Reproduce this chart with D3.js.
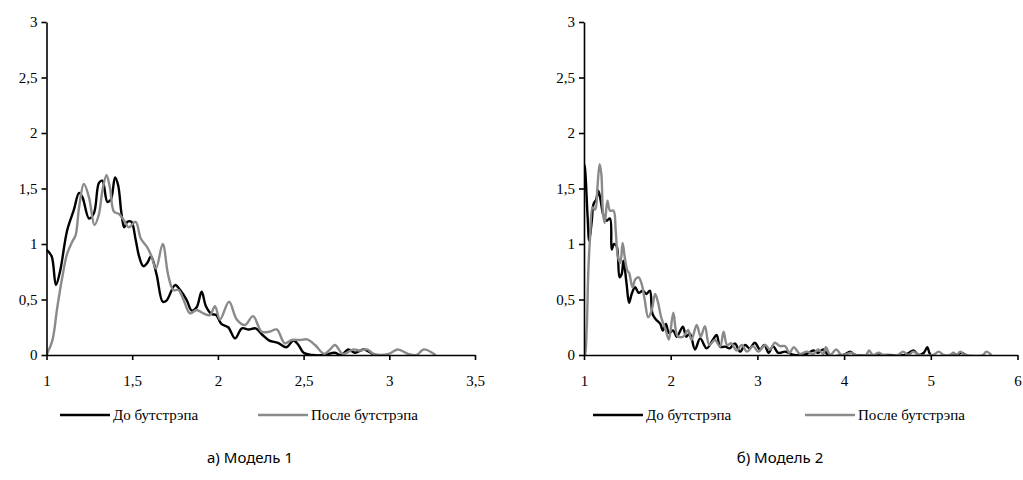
<!DOCTYPE html>
<html>
<head>
<meta charset="utf-8">
<script src="https://cdn.jsdelivr.net/npm/d3@7"></script>
<style>
  body { margin: 0; background: #fff; }
</style>
</head>
<body>
<div id="chart"></div>
<script>
// Series names
const seriesNames = ["До бутстрэпа", "После бутстрэпа"];
const captions = ["а) Модель 1", "б) Модель 2"];

// Model 1, density before / after bootstrap: [x, y]
const m1Before = [
  [1.00,0.95],[1.03,0.89],[1.055,0.63],[1.08,0.76],[1.12,1.12],[1.16,1.31],[1.19,1.46],[1.21,1.42],
  [1.248,1.23],[1.277,1.28],[1.306,1.55],[1.326,1.57],[1.355,1.38],[1.375,1.40],[1.40,1.60],[1.418,1.53],
  [1.437,1.28],[1.453,1.15],[1.472,1.20],[1.495,1.20],[1.52,1.04],[1.54,0.89],[1.565,0.80],[1.588,0.83],
  [1.61,0.89],[1.643,0.72],[1.678,0.48],[1.70,0.49],[1.75,0.63],[1.78,0.585],[1.818,0.495],[1.847,0.40],
  [1.876,0.43],[1.905,0.57],[1.93,0.44],[1.963,0.37],[1.99,0.36],[2.02,0.28],[2.06,0.25],[2.10,0.15],
  [2.14,0.24],[2.18,0.23],[2.22,0.24],[2.26,0.18],[2.30,0.13],[2.35,0.11],[2.40,0.07],[2.44,0.13],
  [2.47,0.09],[2.50,0.02],[2.55,0.0],[2.62,0.0],[2.68,0.02],[2.72,0.0],[2.76,0.05],[2.80,0.02],
  [2.85,0.05],[2.91,0.0]
];
const m1After = [
  [1.00,0.0],[1.034,0.13],[1.063,0.43],[1.092,0.70],[1.12,0.91],[1.15,1.02],[1.17,1.08],[1.19,1.33],
  [1.218,1.54],[1.248,1.42],[1.28,1.17],[1.306,1.27],[1.326,1.48],[1.35,1.62],[1.37,1.51],[1.394,1.29],
  [1.423,1.27],[1.453,1.21],[1.48,1.15],[1.52,1.20],[1.55,1.05],[1.588,0.97],[1.61,0.90],[1.639,0.78],
  [1.678,1.00],[1.71,0.72],[1.74,0.585],[1.77,0.585],[1.80,0.495],[1.837,0.375],[1.876,0.405],[1.915,0.375],
  [1.954,0.36],[1.983,0.44],[2.012,0.32],[2.065,0.48],[2.11,0.32],[2.158,0.27],[2.205,0.35],[2.255,0.21],
  [2.30,0.21],[2.343,0.23],[2.39,0.105],[2.43,0.135],[2.48,0.135],[2.52,0.14],[2.567,0.09],[2.62,0.01],
  [2.654,0.05],[2.683,0.09],[2.73,0.01],[2.79,0.05],[2.83,0.04],[2.87,0.05],[2.91,0.01],[2.997,0.01],
  [3.05,0.05],[3.11,0.01],[3.16,0.0],[3.20,0.05],[3.27,0.0]
];

// Model 2, density before / after bootstrap: [x, y]
const m2Before = [
  [1.0,1.72],[1.01,1.69],[1.04,1.27],[1.06,1.03],[1.09,1.21],[1.11,1.36],[1.14,1.40],[1.165,1.48],
  [1.19,1.40],[1.22,1.27],[1.26,1.21],[1.30,1.23],[1.32,0.95],[1.346,1.0],[1.377,0.98],[1.41,0.70],
  [1.435,0.73],[1.455,0.85],[1.49,0.65],[1.52,0.47],[1.55,0.55],[1.59,0.61],[1.63,0.56],[1.68,0.58],
  [1.72,0.55],[1.76,0.58],[1.79,0.37],[1.83,0.32],[1.88,0.28],[1.91,0.22],[1.945,0.28],[1.98,0.20],
  [2.03,0.22],[2.07,0.165],[2.14,0.255],[2.18,0.165],[2.22,0.195],[2.28,0.05],[2.34,0.15],[2.415,0.06],
  [2.485,0.135],[2.53,0.18],[2.57,0.075],[2.63,0.075],[2.68,0.06],[2.74,0.105],[2.80,0.03],[2.86,0.09],
  [2.91,0.06],[2.97,0.11],[3.03,0.05],[3.08,0.09],[3.13,0.02],[3.18,0.08],[3.24,0.02],[3.32,0.03],
  [3.43,0.0],[3.57,0.01],[3.645,0.04],[3.70,0.02],[3.76,0.05],[3.82,0.0],[3.99,0.0],[4.07,0.03],
  [4.13,0.0],[4.50,0.0],[4.70,0.0],[4.75,0.02],[4.80,0.04],[4.86,0.0],[4.92,0.02],[4.96,0.07],
  [5.00,0.0],[5.30,0.0],[5.35,0.02],[5.40,0.0]
];
const m2After = [
  [1.0,0.0],[1.01,0.0],[1.03,0.21],[1.05,0.76],[1.07,1.06],[1.10,1.33],[1.13,1.31],[1.155,1.51],
  [1.18,1.72],[1.20,1.63],[1.22,1.27],[1.24,1.19],[1.27,1.39],[1.30,1.30],[1.34,1.30],[1.366,1.12],
  [1.39,0.89],[1.42,0.83],[1.445,1.01],[1.47,0.88],[1.50,0.76],[1.52,0.74],[1.56,0.61],[1.59,0.68],
  [1.63,0.70],[1.665,0.64],[1.70,0.50],[1.74,0.34],[1.78,0.40],[1.82,0.55],[1.855,0.47],[1.89,0.34],
  [1.945,0.22],[1.98,0.14],[2.03,0.38],[2.08,0.17],[2.145,0.165],[2.20,0.225],[2.24,0.135],[2.30,0.27],
  [2.345,0.165],[2.395,0.26],[2.445,0.09],[2.51,0.135],[2.57,0.075],[2.61,0.21],[2.65,0.09],[2.70,0.105],
  [2.76,0.04],[2.82,0.09],[2.88,0.03],[2.95,0.08],[3.01,0.03],[3.09,0.09],[3.145,0.05],[3.20,0.11],
  [3.26,0.08],[3.32,0.08],[3.37,0.02],[3.42,0.07],[3.49,0.01],[3.57,0.03],[3.645,0.01],[3.70,0.05],
  [3.76,0.01],[3.79,0.07],[3.84,0.0],[3.91,0.05],[3.97,0.0],[4.09,0.02],[4.13,0.0],[4.25,0.0],
  [4.29,0.04],[4.33,0.0],[4.40,0.02],[4.45,0.0],[4.62,0.0],[4.68,0.03],[4.74,0.0],[4.80,0.03],
  [4.86,0.0],[5.03,0.0],[5.09,0.03],[5.15,0.0],[5.22,0.0],[5.26,0.02],[5.30,0.0],[5.34,0.03],
  [5.40,0.0],[5.60,0.0],[5.64,0.03],[5.70,0.0]
];

// Axis ticks
const m1XTicks = [1, 1.5, 2, 2.5, 3, 3.5];
const m2XTicks = [1, 2, 3, 4, 5, 6];
const yTicks = [0, 0.5, 1, 1.5, 2, 2.5, 3];

const colors = ["#000000", "#8a8a8a"];
const serifFont = "'Liberation Serif', 'Times New Roman', serif";
const W = 1023, H = 480;

const svg = d3.select("#chart").append("svg")
  .attr("width", W)
  .attr("height", H);

const panels = [
  { left: 46.5, right: 475, xDomain: [1, 3.5], xTicks: m1XTicks, series: [m1Before, m1After],
    legend: [60, 258], caption: captions[0], capX: 250 },
  { left: 584, right: 1017.5, xDomain: [1, 6], xTicks: m2XTicks, series: [m2Before, m2After],
    legend: [593, 805], caption: captions[1], capX: 780 }
];

const fmt = d => String(d).replace(".", ",");

panels.forEach((p, i) => {
  const x = d3.scaleLinear().domain(p.xDomain).range([p.left, p.right]);
  const y = d3.scaleLinear().domain([0, 3]).range([355, 22]);

  // clip so smoothing never dips below the axis
  svg.append("clipPath").attr("id", "clip" + i)
    .append("rect")
    .attr("x", p.left).attr("y", 0)
    .attr("width", p.right - p.left).attr("height", 355);

  const line = d3.line()
    .x(d => x(d[0]))
    .y(d => y(d[1]))
    .curve(d3.curveCatmullRom.alpha(0.5));

  const g = svg.append("g").attr("clip-path", `url(#clip${i})`);
  p.series.forEach((s, k) => {
    g.append("path")
      .datum(s)
      .attr("d", line)
      .attr("fill", "none")
      .attr("stroke", colors[k])
      .attr("stroke-width", 2.4)
      .attr("stroke-linejoin", "round");
  });

  // Axes
  const xAxis = svg.append("g")
    .attr("transform", "translate(0,355)")
    .call(d3.axisBottom(x).tickValues(p.xTicks).tickFormat(fmt).tickSize(5).tickSizeOuter(0).tickPadding(15));
  const yAxis = svg.append("g")
    .attr("transform", `translate(${p.left},0)`)
    .call(d3.axisLeft(y).tickValues(yTicks).tickFormat(fmt).tickSize(5).tickSizeOuter(0).tickPadding(4));
  [xAxis, yAxis].forEach(a => {
    a.select(".domain").attr("stroke", "#000").attr("stroke-width", 1.6);
    a.selectAll(".tick line").attr("stroke", "#000").attr("stroke-width", 1.6);
    a.selectAll(".tick text")
      .style("font-family", serifFont)
      .style("font-size", "15px")
      .style("fill", "#000");
  });

  // Legend
  seriesNames.forEach((name, k) => {
    const lx = p.legend[k];
    svg.append("line")
      .attr("x1", lx).attr("x2", lx + 50)
      .attr("y1", 415).attr("y2", 415)
      .attr("stroke", colors[k])
      .attr("stroke-width", 2.4);
    svg.append("text")
      .attr("x", lx + 53).attr("y", 420)
      .style("font-family", serifFont)
      .style("font-size", "15px")
      .text(name);
  });

  // Caption
  svg.append("text")
    .attr("x", p.capX).attr("y", 463)
    .attr("text-anchor", "middle")
    .style("font-family", "'Noto Sans', sans-serif")
    .style("font-size", "15px")
    .text(p.caption);
});
</script>
</body>
</html>
